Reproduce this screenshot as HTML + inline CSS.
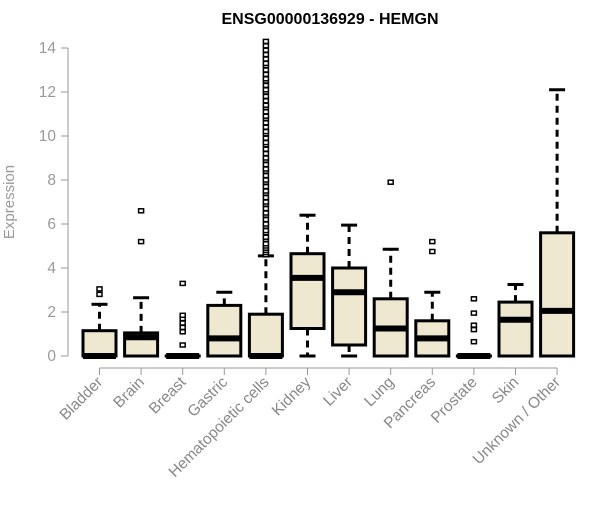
<!DOCTYPE html>
<html><head><meta charset="utf-8"><style>
body{margin:0;background:#fff}
svg{font-family:"Liberation Sans",Arial,sans-serif}
</style></head><body>
<svg id="c" width="600" height="500">
<text x="330" y="24" text-anchor="middle" font-weight="bold" font-size="16">ENSG00000136929 - HEMGN</text>
<text transform="translate(14,202) rotate(-90)" text-anchor="middle" font-size="15" fill="#999">Expression</text>
<g id="ax"></g><g id="marks"></g>
</svg>
<script>
const categories=["Bladder","Brain","Breast","Gastric","Hematopoietic cells","Kidney","Liver","Lung","Pancreas","Prostate","Skin","Unknown / Other"];
const q1=[0,0,0,0,0,1.25,0.5,0,0,0,0,0];
const medians=[0,0.85,0,0.8,0,3.55,2.9,1.25,0.8,0,1.65,2.05];
const q3=[1.15,1.05,0,2.3,1.9,4.65,4.0,2.6,1.6,0,2.45,5.6];
const whiskLo=[0,0,0,0,0,0,0,0,0,0,0,0];
const whiskHi=[2.35,2.65,0,2.9,4.55,6.4,5.95,4.85,2.9,0,3.25,12.1];
const outliers=[[2.8,3.05],[5.2,6.6],[0.5,1.1,1.3,1.5,1.7,1.85,3.3],[],
[4.6,4.7,4.8,4.9,5.0,5.1,5.3,5.4,5.6,5.7,5.9,6.0,6.2,6.4,6.5,6.7,6.9,7.0,7.2,7.4,7.5,7.7,7.9,8.0,8.2,8.4,8.5,8.7,8.9,9.0,9.2,9.4,9.6,9.7,9.9,10.1,10.2,10.4,10.6,10.8,10.9,11.1,11.3,11.4,11.6,11.8,12.0,12.1,12.3,12.5,12.6,12.8,13.0,13.2,13.3,13.5,13.7,13.9,14.1,14.3],
[],[],[7.9],[4.75,5.2],[0.65,1.2,1.4,1.95,2.6],[],[]];
const yTicks=[0,2,4,6,8,10,12,14];
const NS="http://www.w3.org/2000/svg";
const y=v=>356-22*v, x=i=>99.5+41.6*i;
const ax=document.getElementById('ax'), mk=document.getElementById('marks');
function el(t,a,p){const e=document.createElementNS(NS,t);for(const k in a)e.setAttribute(k,a[k]);p.appendChild(e);return e;}
let l=el('line',{x1:68,x2:68,y1:y(0),y2:y(14),stroke:'#999'},ax);


yTicks.forEach(t=>{
 el('line',{x1:61,x2:68,y1:y(t),y2:y(t),stroke:'#999'},ax);
 const tx=el('text',{x:56,y:y(t)+5,'text-anchor':'end','font-size':15.5,fill:'#999'},ax);tx.textContent=t;
 
 
});
l=el('line',{x1:x(0),x2:x(11),y1:368,y2:368,stroke:'#999'},ax);


categories.forEach((c,i)=>{
 el('line',{x1:x(i),x2:x(i),y1:368,y2:375,stroke:'#999'},ax);
 const tx=el('text',{transform:`translate(${x(i)+4},${383}) rotate(-45)`,'text-anchor':'end','font-size':15.5,fill:'#888'},ax);tx.textContent=c;
 
 
 const g=el('g',{},mk);
 
 
 const cx=x(i),hw=16.5;
 if(whiskHi[i]>q3[i]){el('line',{x1:cx,x2:cx,y1:y(q3[i]),y2:y(whiskHi[i]),stroke:'#000','stroke-width':3,'stroke-dasharray':'7,5'},g);
  el('line',{x1:cx-8,x2:cx+8,y1:y(whiskHi[i]),y2:y(whiskHi[i]),stroke:'#000','stroke-width':3},g);}
 if(q1[i]>whiskLo[i]){el('line',{x1:cx,x2:cx,y1:y(q1[i]),y2:y(whiskLo[i]),stroke:'#000','stroke-width':3,'stroke-dasharray':'7,5'},g);
  el('line',{x1:cx-8,x2:cx+8,y1:y(whiskLo[i]),y2:y(whiskLo[i]),stroke:'#000','stroke-width':3},g);}
 el('rect',{x:cx-hw,y:y(q3[i]),width:2*hw,height:Math.max(0.1,y(q1[i])-y(q3[i])),fill:'#ede8cf',stroke:'#000','stroke-width':3},g);
 el('line',{x1:cx-hw,x2:cx+hw,y1:y(medians[i]),y2:y(medians[i]),stroke:'#000','stroke-width':6},g);
 outliers[i].forEach(v=>{const o=el('rect',{x:cx-2.5,y:y(v)-2,width:5,height:4,fill:'#fff',stroke:'#000','stroke-width':1.5},g);
  
  });
});
</script>
</body></html>
